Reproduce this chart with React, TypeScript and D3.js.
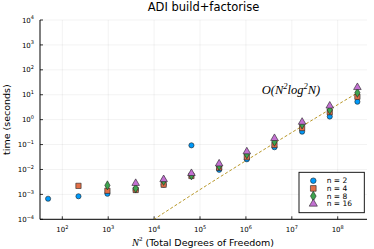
import React from "react";
import * as d3 from "d3";

// grid sizes N (plotted as N^2 degrees of freedom)
const gridN = [7, 15, 31, 63, 127, 255, 511, 1023, 2047, 4095, 8191, 16383];

// build+factorise times in seconds, one list per n (null = no run)
const timesN2 = [6.7e-4, 8.4e-4, 1.06e-3, 1.5e-3, 2.45e-3, 0.093, 0.0097, 0.0256, 0.078, 0.33, 1.33, 5.25];
const timesN4 = [null, 2.2e-3, 1.4e-3, 1.5e-3, 2.45e-3, 5.5e-3, 0.0118, 0.031, 0.096, 0.46, 2.0, 8.3];
const timesN8 = [null, null, 2.3e-3, 1.75e-3, 3.5e-3, 5.8e-3, 0.0138, 0.041, 0.13, 0.64, 2.47, 12];
const timesN16 = [null, null, null, 2.8e-3, 4.0e-3, 7.0e-3, 0.017, 0.052, 0.178, 0.8, 3.57, 19.8];

// reference O(N^2 log^2 N) curve
const refTimes = [8.75e-8, 7.78e-7, 5.34e-6, 3.21e-5, 1.78e-4, 9.41e-4, 4.79e-3, 0.0237, 0.1149, 0.547, 2.569, 11.92];

const seriesNames = ["n = 2", "n = 4", "n = 8", "n = 16"];
const xTickExps = [2, 3, 4, 5, 6, 7, 8];
const yTickExps = [-4, -3, -2, -1, 0, 1, 2, 3, 4];

const W = 374;
const H = 249;
const left = 40, right = 367, top = 20, bottom = 219.3;

const colors = ["#009AFA", "#E36F47", "#3EA44E", "#C371D2"];
const shapes = [d3.symbolCircle, d3.symbolSquare, d3.symbolDiamond, d3.symbolTriangle];
const sizes = [21, 28, 24, 25];
const font = "DejaVu Sans, sans-serif";

const sup = (e: number) => (e < 0 ? "\u2212" + Math.abs(e) : String(e));

export default function App() {
  const x = d3.scaleLog().domain([Math.pow(10, 1.514), Math.pow(10, 8.638)]).range([left, right]);
  const y = d3.scaleLog().domain([1e-4, 1e4]).range([bottom, top]);

  const allSeries = [timesN2, timesN4, timesN8, timesN16];

  const refLine = d3
    .line<number>()
    .x((_, i) => x(gridN[i] * gridN[i]))
    .y((d) => y(d));

  return (
    <svg width={W} height={H} style={{ position: "absolute", left: 0, top: 0, background: "#fff" }}>
      <defs>
        <clipPath id="plotClip">
          <rect x={left} y={top} width={right - left} height={bottom - top} />
        </clipPath>
      </defs>

      {/* grid */}
      {xTickExps.map((e) => (
        <line key={"gx" + e} x1={x(Math.pow(10, e))} x2={x(Math.pow(10, e))} y1={top} y2={bottom}
          stroke="#000" strokeOpacity={0.1} strokeWidth={0.5} />
      ))}
      {yTickExps.map((e) => (
        <line key={"gy" + e} x1={left} x2={right} y1={y(Math.pow(10, e))} y2={y(Math.pow(10, e))}
          stroke="#000" strokeOpacity={0.1} strokeWidth={0.5} />
      ))}

      {/* axes */}
      <line x1={left} x2={left} y1={top} y2={bottom} stroke="#000" strokeWidth={1} />
      <line x1={left} x2={right} y1={bottom} y2={bottom} stroke="#000" strokeWidth={1} />
      {xTickExps.map((e) => {
        const px = x(Math.pow(10, e));
        return (
          <g key={"tx" + e}>
            <line x1={px} x2={px} y1={bottom} y2={bottom - 3} stroke="#000" strokeWidth={0.8} />
            <text x={px} y={231.7} fontFamily={font} fontSize={7} textAnchor="middle" fill="#000">
              10<tspan fontSize={5} dy={-3.2}>{sup(e)}</tspan>
            </text>
          </g>
        );
      })}
      {yTickExps.map((e) => {
        const py = y(Math.pow(10, e));
        return (
          <g key={"ty" + e}>
            <line x1={left} x2={left + 3} y1={py} y2={py} stroke="#000" strokeWidth={0.8} />
            <text x={34} y={py + 2.6} fontFamily={font} fontSize={7} textAnchor="end" fill="#000">
              10<tspan fontSize={5} dy={-3.2}>{sup(e)}</tspan>
            </text>
          </g>
        );
      })}

      {/* reference line */}
      <g clipPath="url(#plotClip)">
        <path d={refLine(refTimes) || ""} fill="none" stroke="#B8982A" strokeWidth={1} strokeDasharray="3,2" />
      </g>

      {/* data */}
      {allSeries.map((s, si) => (
        <g key={"s" + si}>
          {s.map((v, i) =>
            v == null ? null : (
              <path key={i}
                d={d3.symbol().type(shapes[si]).size(sizes[si])() || ""}
                transform={`translate(${x(gridN[i] * gridN[i])},${y(v)})`}
                fill={colors[si]} stroke="#222" strokeWidth={0.6} />
            )
          )}
        </g>
      ))}

      {/* annotation */}
      <text x={291} y={94} fontFamily="Liberation Serif, serif" fontStyle="italic" fontSize={12.5} textAnchor="middle" fill="#000">
        O(N<tspan fontSize={8.5} dy={-5}>2</tspan><tspan dy={5}>log</tspan><tspan fontSize={8.5} dy={-5}>2</tspan><tspan dy={5}>N)</tspan>
      </text>

      {/* legend */}
      <rect x={299} y={172.3} width={65.3} height={40.4} fill="#fff" stroke="#000" strokeWidth={0.9} />
      {seriesNames.map((name, i) => {
        const ly = 180.7 + i * 7.7;
        return (
          <g key={"lg" + i}>
            <path d={d3.symbol().type(shapes[i]).size(sizes[i] * 1.15)() || ""}
              transform={`translate(313.3,${ly})`} fill={colors[i]} stroke="#222" strokeWidth={0.6} />
            <text x={326.7} y={ly + 2.6} fontFamily={font} fontSize={7.5} fill="#000">{name}</text>
          </g>
        );
      })}

      {/* title and labels */}
      <text x={203.5} y={11} fontFamily={font} fontSize={11.5} textAnchor="middle" fill="#000">ADI build+factorise</text>
      <text x={203} y={245.7} fontFamily={font} fontSize={9.5} textAnchor="middle" fill="#000">
        <tspan fontFamily="Liberation Serif, serif" fontStyle="italic" fontSize={10.5}>N</tspan>
        <tspan fontFamily="Liberation Serif, serif" fontSize={7} dy={-4.5}>2</tspan>
        <tspan dy={4.5}> (Total Degrees of Freedom)</tspan>
      </text>
      <text transform="translate(10,119.6) rotate(-90)" fontFamily={font} fontSize={9.5} textAnchor="middle" fill="#000">
        time (seconds)
      </text>
    </svg>
  );
}
